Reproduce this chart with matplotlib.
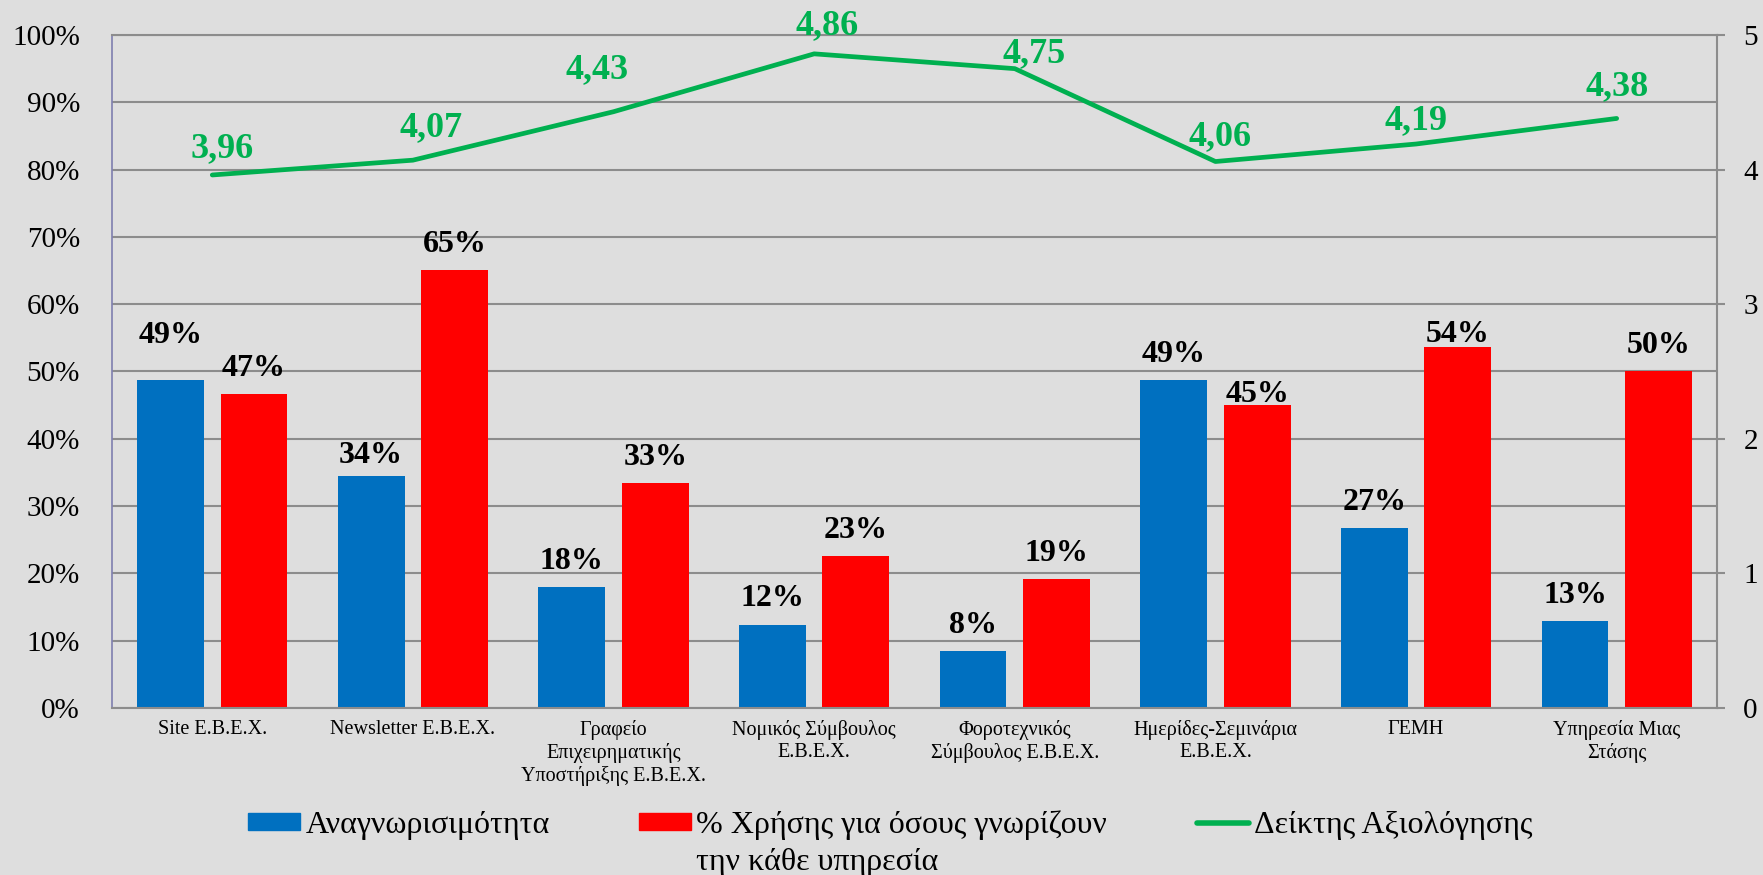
import numpy as np
import matplotlib
matplotlib.use("Agg")
import matplotlib.pyplot as plt
from matplotlib.ticker import FuncFormatter

plt.rcParams["font.family"] = ["Liberation Serif", "DejaVu Serif"]

# ---- data ---------------------------------------------------------------
categories = [
    "Site E.B.E.X.",
    "Newsletter E.B.E.X.",
    "Γραφείο\nΕπιχειρηματικής\nΥποστήριξης Ε.Β.Ε.Χ.",
    "Νομικός Σύμβουλος\nΕ.Β.Ε.Χ.",
    "Φοροτεχνικός\nΣύμβουλος Ε.Β.Ε.Χ.",
    "Ημερίδες-Σεμινάρια\nΕ.Β.Ε.Χ.",
    "ΓΕΜΗ",
    "Υπηρεσία Μιας\nΣτάσης",
]
awareness = [48.8, 34.4, 18.0, 12.4, 8.4, 48.8, 26.8, 12.9]     # %
usage = [46.7, 65.1, 33.4, 22.6, 19.1, 45.0, 53.6, 50.0]        # %
rating = [3.96, 4.07, 4.43, 4.86, 4.75, 4.06, 4.19, 4.38]

series_names = [
    "Αναγνωρισιμότητα",
    "% Χρήσης για όσους γνωρίζουν",
    "Δείκτης Αξιολόγησης",
]
usage_name_line2 = "την κάθε υπηρεσία"

# label nudges (points) to mimic the hand-placed data labels
awareness_dy = [26, 10, 13, 13, 13, 13, 13, 13]
usage_dy = [13, 13, 13, 13, 13, 2, 4, 13]
rating_dx = [7, 13, -12, 9, 14, 3, 0, 0]
rating_dy = [13, 17, 24, 14, 5, 12, 11, 17]

BLUE = "#0070C0"
RED = "#FF0000"
GREEN = "#00B050"
BG = "#DEDEDE"
GRID = "#8C8C8C"

fig = plt.figure(figsize=(17.63, 8.75), dpi=100, facecolor=BG)
ax = fig.add_axes([0.0635, 0.1909, 0.9104, 0.7691])
ax.set_facecolor(BG)

x = np.arange(len(categories))
w = 0.333
off = 0.208

ax.bar(x - off, awareness, w, color=BLUE, zorder=2)
ax.bar(x + off, usage, w, color=RED, zorder=2)

for i in range(len(categories)):
    ax.annotate(f"{awareness[i]:.0f}%", (x[i] - off, awareness[i]),
                xytext=(0, awareness_dy[i]), textcoords="offset points",
                ha="center", va="baseline", fontsize=23, fontweight="bold")
    ax.annotate(f"{usage[i]:.0f}%", (x[i] + off, usage[i]),
                xytext=(0, usage_dy[i]), textcoords="offset points",
                ha="center", va="baseline", fontsize=23, fontweight="bold")

ax.set_xlim(-0.5, len(categories) - 0.5)
ax.set_ylim(0, 100)
ax.set_yticks(np.arange(0, 101, 10))
ax.yaxis.set_major_formatter(FuncFormatter(lambda v, p: f"{v:.0f}%"))
ax.set_xticks(x)
ax.set_xticklabels(categories, fontsize=14.5, linespacing=1.2)
ax.tick_params(axis="x", length=0, pad=9)
ax.tick_params(axis="y", length=0, pad=23, labelsize=21)
ax.yaxis.grid(True, color=GRID, linewidth=1.5, zorder=0)
ax.set_axisbelow(True)

ax.spines["left"].set_color("#7F7FAF")
ax.spines["left"].set_linewidth(1.2)
for s in ("bottom", "right", "top"):
    ax.spines[s].set_color(GRID)
    ax.spines[s].set_linewidth(1.5)

ax2 = ax.twinx()
ax2.plot(x, rating, color=GREEN, linewidth=3.4, solid_capstyle="round",
         solid_joinstyle="round", zorder=3)
ax2.set_ylim(0, 5)
ax2.set_yticks(np.arange(0, 6, 1))
ax2.tick_params(axis="y", length=6, width=1.5, color=GRID, pad=13, labelsize=21)
for s in ax2.spines.values():
    s.set_visible(False)

for i in range(len(categories)):
    ax2.annotate(f"{rating[i]:.2f}".replace(".", ","), (x[i], rating[i]),
                 xytext=(rating_dx[i], rating_dy[i]), textcoords="offset points",
                 ha="center", va="baseline", fontsize=26, fontweight="bold",
                 color=GREEN)

handles = [
    plt.Rectangle((0, 0), 1, 1, color=BLUE),
    plt.Rectangle((0, 0), 1, 1, color=RED),
    plt.Line2D([], [], color=GREEN, linewidth=4, solid_capstyle="round"),
]
leg = fig.legend(handles, series_names, loc="upper center",
                 bbox_to_anchor=(0.505, 0.074), ncol=3, frameon=False,
                 fontsize=23, handlelength=1.63, handleheight=0.47,
                 handletextpad=0.16, columnspacing=2.8,
                 borderaxespad=0, borderpad=0)

# second line of the red entry, hung under its first line
fig.canvas.draw()
bb = leg.get_texts()[1].get_window_extent().transformed(fig.transFigure.inverted())
fig.text(bb.x0, bb.y0 - 37 / 875, usage_name_line2, ha="left", va="bottom",
         fontsize=23)

fig.savefig("out.png", dpi=100, facecolor=BG)
